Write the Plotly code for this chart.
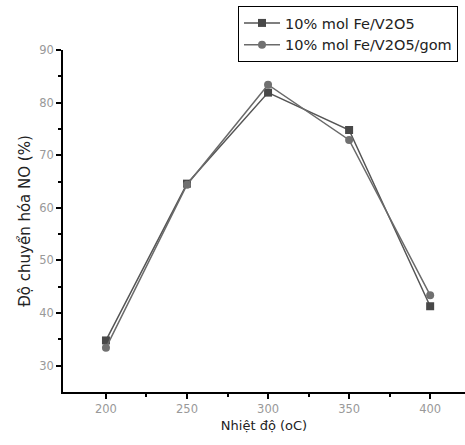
import plotly.graph_objects as go

temps = [200, 250, 300, 350, 400]
fe_v2o5 = [34.8, 64.6, 81.9, 74.8, 41.3]
fe_v2o5_gom = [33.4, 64.4, 83.4, 72.9, 43.4]
names = ["10% mol Fe/V2O5", "10% mol Fe/V2O5/gom"]

fig = go.Figure()
fig.add_trace(go.Scatter(x=temps, y=fe_v2o5, name=names[0], mode="lines+markers",
                         line=dict(color="#555555", width=1.5),
                         marker=dict(symbol="square", size=8, color="#484848")))
fig.add_trace(go.Scatter(x=temps, y=fe_v2o5_gom, name=names[1], mode="lines+markers",
                         line=dict(color="#6a6a6a", width=1.5),
                         marker=dict(symbol="circle", size=8, color="#707070")))

W, H = 465, 445
L, R, T, B = 63, 0, 50, 53
pw = W - L - R
ph = H - T - B
FONT = "DejaVu Sans, Liberation Sans, Arial, sans-serif"

fig.update_layout(
    width=W, height=H,
    margin=dict(l=L, r=R, t=T, b=B, pad=0),
    paper_bgcolor="white", plot_bgcolor="white",
    font=dict(family=FONT, color="black"),
    showlegend=True,
    legend=dict(x=(238 - L) / pw, y=(392 - 6) / ph, xanchor="left", yanchor="top",
                bordercolor="black", borderwidth=1, bgcolor="white",
                font=dict(size=14.5, color="#222222"), tracegroupgap=0,
                itemwidth=36),
    xaxis=dict(range=[173.5, 421.5], tickvals=temps, ticks="outside", ticklen=5,
               tickwidth=1.5, tickcolor="black", showline=True, linecolor="black",
               linewidth=1.5, showgrid=False, zeroline=False,
               tickfont=dict(size=11.5, color="#999999"),
               minor=dict(tickvals=[225, 275, 325, 375], ticks="outside", ticklen=3,
                          tickcolor="black", tickwidth=1.5),
               title=dict(text="Nhiệt độ (oC)", font=dict(size=13, color="#222222"), standoff=6)),
    yaxis=dict(range=[25, 90], tickvals=[30, 40, 50, 60, 70, 80, 90], ticks="outside",
               ticklen=5, tickwidth=1.5, tickcolor="black", showline=True,
               linecolor="black", linewidth=1.5, showgrid=False, zeroline=False,
               tickfont=dict(size=11.5, color="#999999"),
               minor=dict(tickvals=[35, 45, 55, 65, 75, 85], ticks="outside", ticklen=3,
                          tickcolor="black", tickwidth=1.5),
               title=dict(text="Độ chuyển hóa NO (%)", font=dict(size=15, color="#222222"), standoff=5)),
)

fig.write_html("out.html")
